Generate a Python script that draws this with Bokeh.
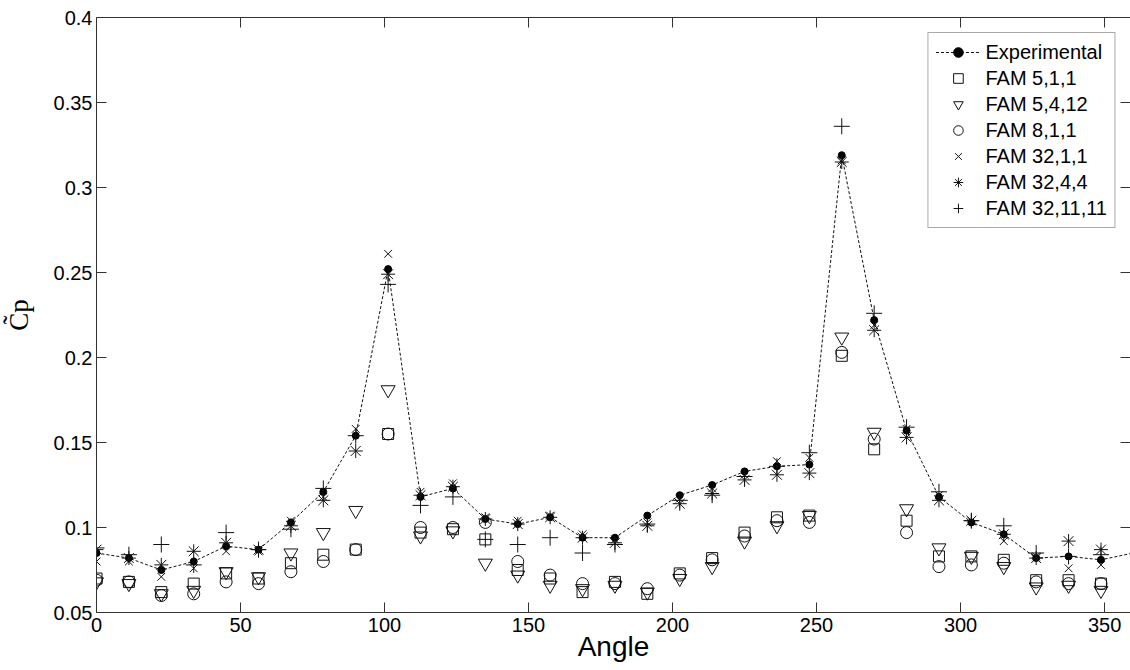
from bokeh.plotting import figure
from bokeh.models import LinearAxis, FixedTicker, Legend, LegendItem, Range1d
from bokeh.embed import file_html
from bokeh.resources import INLINE

# ---------------- data ----------------
angles = [0, 11.25, 22.5, 33.75, 45, 56.25, 67.5, 78.75, 90, 101.25, 112.5, 123.75,
          135, 146.25, 157.5, 168.75, 180, 191.25, 202.5, 213.75, 225, 236.25, 247.5,
          258.75, 270, 281.25, 292.5, 303.75, 315, 326.25, 337.5, 348.75]

experimental = [0.085, 0.082, 0.075, 0.080, 0.089, 0.087, 0.103, 0.121, 0.154, 0.252,
                0.118, 0.123, 0.105, 0.102, 0.106, 0.094, 0.094, 0.107, 0.119, 0.125,
                0.133, 0.136, 0.137, 0.319, 0.222, 0.157, 0.118, 0.103, 0.096, 0.082,
                0.083, 0.081]
# the experimental line closes at 360 degrees
exp_end_angle = 360
exp_end_value = 0.085

fam_5_1_1 = [0.070, 0.068, 0.062, 0.067, 0.073, 0.070, 0.079, 0.084, 0.087, 0.155,
             0.097, 0.099, 0.093, 0.075, 0.070, 0.062, 0.068, 0.061, 0.073, 0.082,
             0.097, 0.106, 0.107, 0.201, 0.146, 0.104, 0.083, 0.083, 0.081, 0.069,
             0.069, 0.067]
fam_5_4_12 = [0.068, 0.067, 0.061, 0.063, 0.074, 0.071, 0.085, 0.097, 0.110, 0.181,
              0.095, 0.098, 0.079, 0.072, 0.066, 0.064, 0.066, 0.062, 0.070, 0.077,
              0.092, 0.101, 0.107, 0.212, 0.156, 0.111, 0.088, 0.083, 0.077, 0.065,
              0.066, 0.063]
fam_8_1_1 = [0.069, 0.068, 0.060, 0.061, 0.068, 0.067, 0.074, 0.080, 0.087, 0.155,
             0.100, 0.100, 0.103, 0.080, 0.072, 0.067, 0.067, 0.064, 0.072, 0.081,
             0.095, 0.104, 0.103, 0.203, 0.152, 0.097, 0.077, 0.078, 0.079, 0.068,
             0.067, 0.067]
fam_32_1_1 = [0.080, 0.080, 0.071, 0.076, 0.086, 0.086, 0.104, 0.118, 0.158, 0.261,
              0.121, 0.126, 0.106, 0.104, 0.107, 0.096, 0.093, 0.103, 0.117, 0.123,
              0.131, 0.139, 0.141, 0.316, 0.219, 0.158, 0.119, 0.104, 0.092, 0.083,
              0.076, 0.078]
fam_32_4_4 = [0.087, 0.082, 0.078, 0.086, 0.091, 0.087, 0.101, 0.116, 0.145, 0.249,
              0.119, 0.124, 0.105, 0.102, 0.106, 0.094, 0.091, 0.101, 0.114, 0.120,
              0.128, 0.131, 0.132, 0.315, 0.216, 0.153, 0.116, 0.104, 0.096, 0.082,
              0.092, 0.087]
fam_32_11_11 = [0.088, 0.084, 0.090, 0.078, 0.097, 0.087, 0.099, 0.123, 0.154, 0.243,
                0.113, 0.118, 0.093, 0.090, 0.094, 0.085, 0.090, 0.102, 0.116, 0.119,
                0.130, 0.136, 0.144, 0.336, 0.226, 0.159, 0.121, 0.104, 0.101, 0.085,
                0.083, 0.084]

x_ticks = [0, 50, 100, 150, 200, 250, 300, 350]
y_ticks = [0.05, 0.1, 0.15, 0.2, 0.25, 0.3, 0.35, 0.4]
y_tick_labels = ["0.05", "0.1", "0.15", "0.2", "0.25", "0.3", "0.35", "0.4"]

series_labels = ["Experimental", "FAM 5,1,1", "FAM 5,4,12", "FAM 8,1,1",
                 "FAM 32,1,1", "FAM 32,4,4", "FAM 32,11,11"]

# ---------------- figure ----------------
AX = "#333333"
p = figure(width=1130, height=670,
           x_range=Range1d(0, 359), y_range=Range1d(0.05, 0.4),
           output_backend="svg", toolbar_location=None,
           min_border_left=96, min_border_right=0, min_border_top=17,
           min_border_bottom=58)
p.xgrid.visible = False
p.ygrid.visible = False
p.outline_line_color = None
p.background_fill_color = "white"
p.border_fill_color = "white"


def style_axis(ax, labels=True):
    ax.major_tick_in = 10
    ax.major_tick_out = 0
    ax.minor_tick_line_color = None
    ax.axis_line_color = AX
    ax.major_tick_line_color = AX
    ax.major_label_text_font = "Liberation Sans"
    if labels:
        ax.major_label_text_font_size = "20px"
        ax.major_label_text_color = "black"
    else:
        ax.major_label_text_font_size = "0px"
        ax.major_label_text_color = None
        ax.major_label_standoff = 0


xa = p.xaxis[0]
ya = p.yaxis[0]
xa.ticker = FixedTicker(ticks=x_ticks)
ya.ticker = FixedTicker(ticks=y_ticks)
ya.major_label_overrides = {t: l for t, l in zip(y_ticks, y_tick_labels)}
style_axis(xa)
style_axis(ya)
xa.major_label_standoff = 5
ya.major_label_standoff = 4

xa.axis_label = "Angle"
xa.axis_label_text_font = "Liberation Sans"
xa.axis_label_text_font_size = "28px"
xa.axis_label_text_font_style = "normal"
xa.axis_label_text_color = "black"
xa.axis_label_standoff = -4

ya.axis_label = "C\u0303p"
ya.axis_label_text_font = "Liberation Serif"
ya.axis_label_text_font_size = "27px"
ya.axis_label_text_font_style = "normal"
ya.axis_label_text_color = "black"
ya.axis_label_standoff = 17

top = LinearAxis(ticker=FixedTicker(ticks=x_ticks))
style_axis(top, labels=False)
p.add_layout(top, "above")

right = LinearAxis(ticker=FixedTicker(ticks=y_ticks))
style_axis(right, labels=False)
right.axis_line_color = None
p.add_layout(right, "right")

# ---------------- glyphs ----------------
line_x = angles + [exp_end_angle]
line_y = experimental + [exp_end_value]
exp_line = p.line(line_x, line_y, line_color="#111111", line_width=1, line_dash="3 2")
exp_dots = p.scatter(angles, experimental, marker="circle", size=7,
                     fill_color="black", line_color="black")

marker_specs = [
    (fam_5_1_1, "square", 11),
    (fam_5_4_12, "inverted_triangle", 14),
    (fam_8_1_1, "circle", 12),
    (fam_32_1_1, "x", 11),
    (fam_32_4_4, "asterisk", 14),
    (fam_32_11_11, "cross", 16),
]
renderers = []
for vals, mk, sz in marker_specs:
    r = p.scatter(angles, vals, marker=mk, size=sz, fill_color=None,
                  line_color="#111111", line_width=1)
    renderers.append(r)

items = [LegendItem(label=series_labels[0], renderers=[exp_line, exp_dots])]
for lab, r in zip(series_labels[1:], renderers):
    items.append(LegendItem(label=lab, renderers=[r]))

legend = Legend(items=items, location="top_right", margin=15, padding=7,
                spacing=2, label_height=24, glyph_height=24, glyph_width=45,
                label_standoff=5,
                label_text_font="Liberation Sans", label_text_font_size="20px",
                label_text_color="black",
                border_line_color="#555555", border_line_width=1,
                background_fill_color="white", background_fill_alpha=1)
p.add_layout(legend)

open("out.html", "w").write(file_html(p, INLINE))
